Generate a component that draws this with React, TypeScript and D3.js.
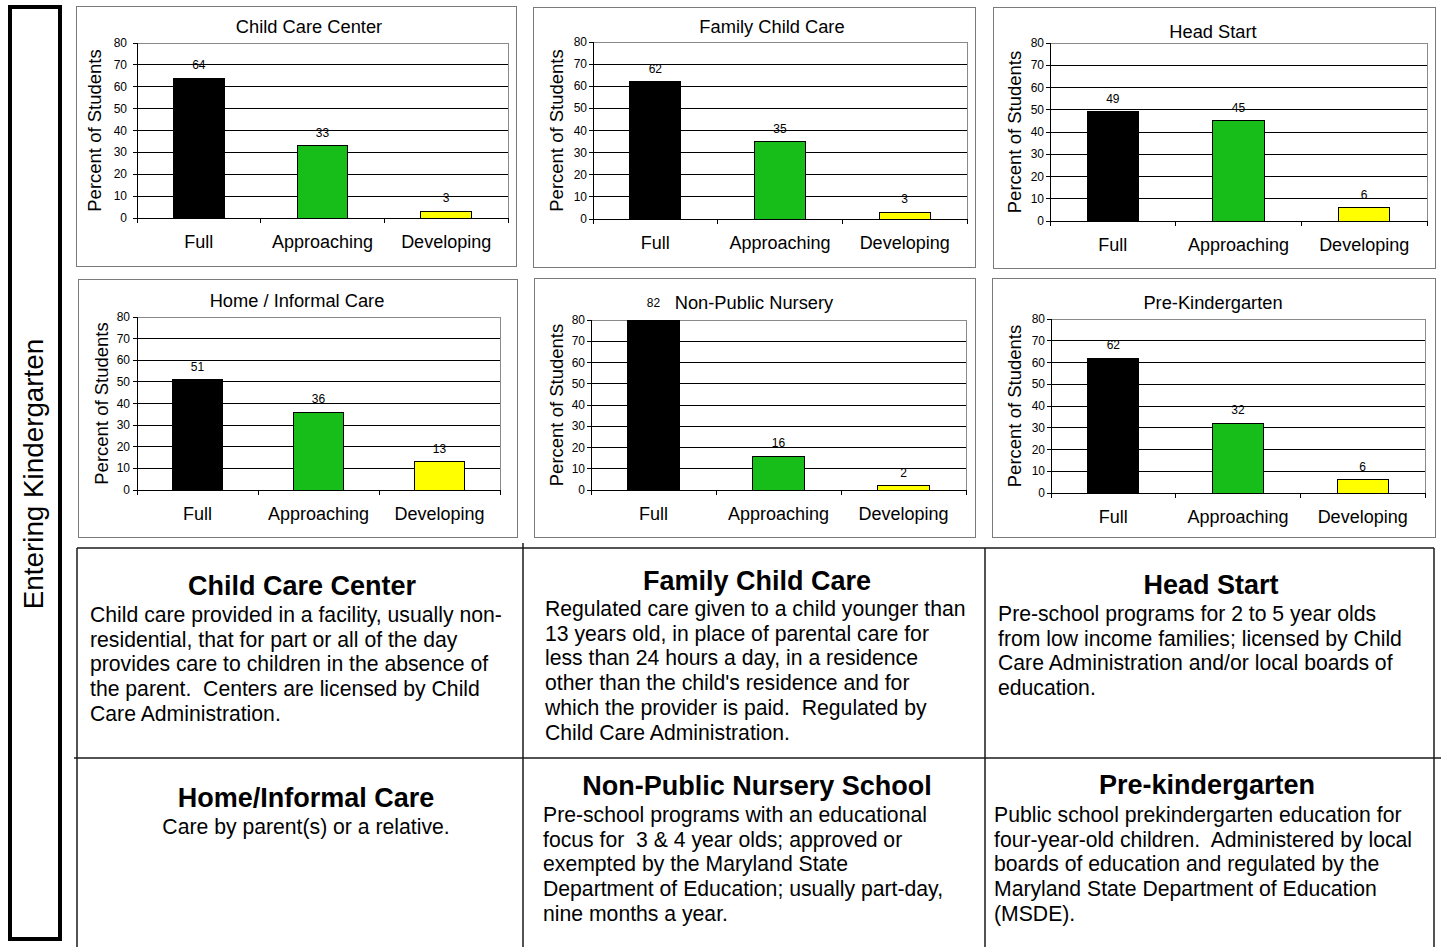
import * as d3 from "d3";

// categories and values per program (percent of students)
const categories = ["Full", "Approaching", "Developing"];
const programTitles = [
  "Child Care Center",
  "Family Child Care",
  "Head Start",
  "Home / Informal Care",
  "Non-Public Nursery",
  "Pre-Kindergarten",
];
const childCareCenter = [64, 33, 3];
const familyChildCare = [62, 35, 3];
const headStart = [49, 45, 6];
const homeInformalCare = [51, 36, 13];
const nonPublicNursery = [82, 16, 2];
const preKindergarten = [62, 32, 6];
const programValues = [
  childCareCenter,
  familyChildCare,
  headStart,
  homeInformalCare,
  nonPublicNursery,
  preKindergarten,
];
const yTicks = [0, 10, 20, 30, 40, 50, 60, 70, 80];
const barColors = ["#000000", "#17be1a", "#ffff00"];

// definitions table text
const defTitles = [
  "Child Care Center",
  "Family Child Care",
  "Head Start",
  "Home/Informal Care",
  "Non-Public Nursery School",
  "Pre-kindergarten",
];
const defLines = [
  [
    "Child care provided in a facility, usually non-",
    "residential, that for part or all of the day",
    "provides care to children in the absence of",
    "the parent.  Centers are licensed by Child",
    "Care Administration.",
  ],
  [
    "Regulated care given to a child younger than",
    "13 years old, in place of parental care for",
    "less than 24 hours a day, in a residence",
    "other than the child's residence and for",
    "which the provider is paid.  Regulated by",
    "Child Care Administration.",
  ],
  [
    "Pre-school programs for 2 to 5 year olds",
    "from low income families; licensed by Child",
    "Care Administration and/or local boards of",
    "education.",
  ],
  ["Care by parent(s) or a relative."],
  [
    "Pre-school programs with an educational",
    "focus for  3 & 4 year olds; approved or",
    "exempted by the Maryland State",
    "Department of Education; usually part-day,",
    "nine months a year.",
  ],
  [
    "Public school prekindergarten education for",
    "four-year-old children.  Administered by local",
    "boards of education and regulated by the",
    "Maryland State Department of Education",
    "(MSDE).",
  ],
];

// layout of the six chart panels
const panels = [
  { box: [76, 6, 516, 266], axisX: 137, right: 508, top: 43, zero: 218, titleX: 309, titleY: 33, labelX: 101, gap: 10 },
  { box: [533, 7, 975, 267], axisX: 593, right: 967, top: 42, zero: 219, titleX: 772, titleY: 33, labelX: 563, gap: 6 },
  { box: [993, 7, 1435, 268], axisX: 1050, right: 1427, top: 43, zero: 221, titleX: 1213, titleY: 38, labelX: 1021, gap: 6 },
  { box: [78, 279, 517, 537], axisX: 137, right: 500, top: 317, zero: 490, titleX: 297, titleY: 307, labelX: 108, gap: 7 },
  { box: [534, 278, 975, 537], axisX: 591, right: 966, top: 320, zero: 490, titleX: 754, titleY: 309, labelX: 563, gap: 6 },
  { box: [992, 278, 1435, 537], axisX: 1051, right: 1425, top: 319, zero: 493, titleX: 1213, titleY: 309, labelX: 1021, gap: 6 },
];

// layout of the definition cells
const cells = [
  { cx: 302, titleY: 595, x: 90, y: 622 },
  { cx: 757, titleY: 590, x: 545, y: 616 },
  { cx: 1211, titleY: 594, x: 998, y: 621 },
  { cx: 306, titleY: 807, x: 306, y: 834, center: true },
  { cx: 757, titleY: 795, x: 543, y: 822 },
  { cx: 1207, titleY: 794, x: 994, y: 822 },
];

const FONT = "'Liberation Sans', Arial, Helvetica, sans-serif";

const Panel = ({ cfg, title, values }) => {
  const x = d3.scaleBand().domain(categories).range([cfg.axisX, cfg.right]);
  const y = d3.scaleLinear().domain([0, 80]).range([cfg.zero, cfg.top]).clamp(true);
  const yRaw = y.copy().clamp(false);
  const bw = x.bandwidth() * 0.41;
  const [x0, y0, x1, y1] = cfg.box;

  return (
    <g fontFamily={FONT}>
      <rect x={x0 + 0.5} y={y0 + 0.5} width={x1 - x0} height={y1 - y0} fill="#fff" stroke="#7a7a7a" />
      <text x={cfg.titleX} y={cfg.titleY} textAnchor="middle" fontSize={18.3}>
        {title}
      </text>
      {yTicks.slice(1, -1).map((t) => (
        <line key={t} x1={cfg.axisX} x2={cfg.right} y1={y(t)} y2={y(t)} stroke="#000" shapeRendering="crispEdges" />
      ))}
      <polyline
        points={`${cfg.axisX},${y(80)} ${cfg.right},${y(80)} ${cfg.right},${y(0)}`}
        fill="none"
        stroke="#8a8a8a"
        shapeRendering="crispEdges"
      />
      {values.map((v, i) => (
        <g key={i}>
          <rect
            x={x(categories[i])! + (x.bandwidth() - bw) / 2}
            y={y(v)}
            width={bw}
            height={y(0) - y(v)}
            fill={barColors[i]}
            stroke="#000"
            shapeRendering="crispEdges"
          />
          <text
            x={x(categories[i])! + x.bandwidth() / 2}
            y={yRaw(v) - 9}
            textAnchor="middle"
            fontSize={12}
          >
            {v}
          </text>
          <text
            x={x(categories[i])! + x.bandwidth() / 2}
            y={cfg.zero + 30}
            textAnchor="middle"
            fontSize={18}
          >
            {categories[i]}
          </text>
        </g>
      ))}
      {/* y axis */}
      <line x1={cfg.axisX} x2={cfg.axisX} y1={y(80)} y2={y(0)} stroke="#000" shapeRendering="crispEdges" />
      {yTicks.map((t) => (
        <g key={t}>
          <line x1={cfg.axisX - 4} x2={cfg.axisX} y1={y(t)} y2={y(t)} stroke="#000" shapeRendering="crispEdges" />
          <text x={cfg.axisX - cfg.gap} y={y(t) + 4} textAnchor="end" fontSize={12}>
            {t}
          </text>
        </g>
      ))}
      {/* x axis */}
      <line x1={cfg.axisX} x2={cfg.right} y1={y(0)} y2={y(0)} stroke="#000" shapeRendering="crispEdges" />
      {[...categories.map((c) => x(c)!), cfg.right].map((px, i) => (
        <line key={i} x1={px} x2={px} y1={y(0)} y2={y(0) + 5} stroke="#000" shapeRendering="crispEdges" />
      ))}
      <text
        transform={`translate(${cfg.labelX},${(cfg.top + cfg.zero) / 2}) rotate(-90)`}
        textAnchor="middle"
        fontSize={18.5}
      >
        Percent of Students
      </text>
    </g>
  );
};

export default function App() {
  const lineH = 24.7;
  return (
    <div style={{ position: "absolute", left: 0, top: 0 }}>
      <svg width={1441} height={947} style={{ display: "block", background: "#fff" }}>
        {/* side label box */}
        <rect x={10} y={7} width={50} height={932} fill="none" stroke="#000" strokeWidth={4} />
        <text
          transform="translate(43,474) rotate(-90)"
          textAnchor="middle"
          fontSize={27.8}
          fontFamily={FONT}
        >
          Entering Kindergarten
        </text>

        {panels.map((cfg, i) => (
          <Panel key={i} cfg={cfg} title={programTitles[i]} values={programValues[i]} />
        ))}

        {/* definitions table */}
        <g stroke="#1a1a1a" strokeWidth={1.5} fill="none">
          <line x1={77} x2={1434} y1={548} y2={548} />
          <line x1={74} x2={1441} y1={758} y2={758} />
          <line x1={77} x2={77} y1={548} y2={947} />
          <line x1={523} x2={523} y1={543} y2={947} />
          <line x1={985} x2={985} y1={548} y2={947} />
          <line x1={1434} x2={1434} y1={548} y2={947} />
        </g>
        <g fontFamily={FONT}>
          {cells.map((c, i) => (
            <g key={i}>
              <text x={c.cx} y={c.titleY} textAnchor="middle" fontSize={27} fontWeight="bold">
                {defTitles[i]}
              </text>
              {defLines[i].map((ln, j) => (
                <text
                  key={j}
                  x={c.x}
                  y={c.y + j * lineH}
                  textAnchor={c.center ? "middle" : "start"}
                  fontSize={21.2}
                  style={{ whiteSpace: "pre" }}
                >
                  {ln}
                </text>
              ))}
            </g>
          ))}
        </g>
      </svg>
    </div>
  );
}
